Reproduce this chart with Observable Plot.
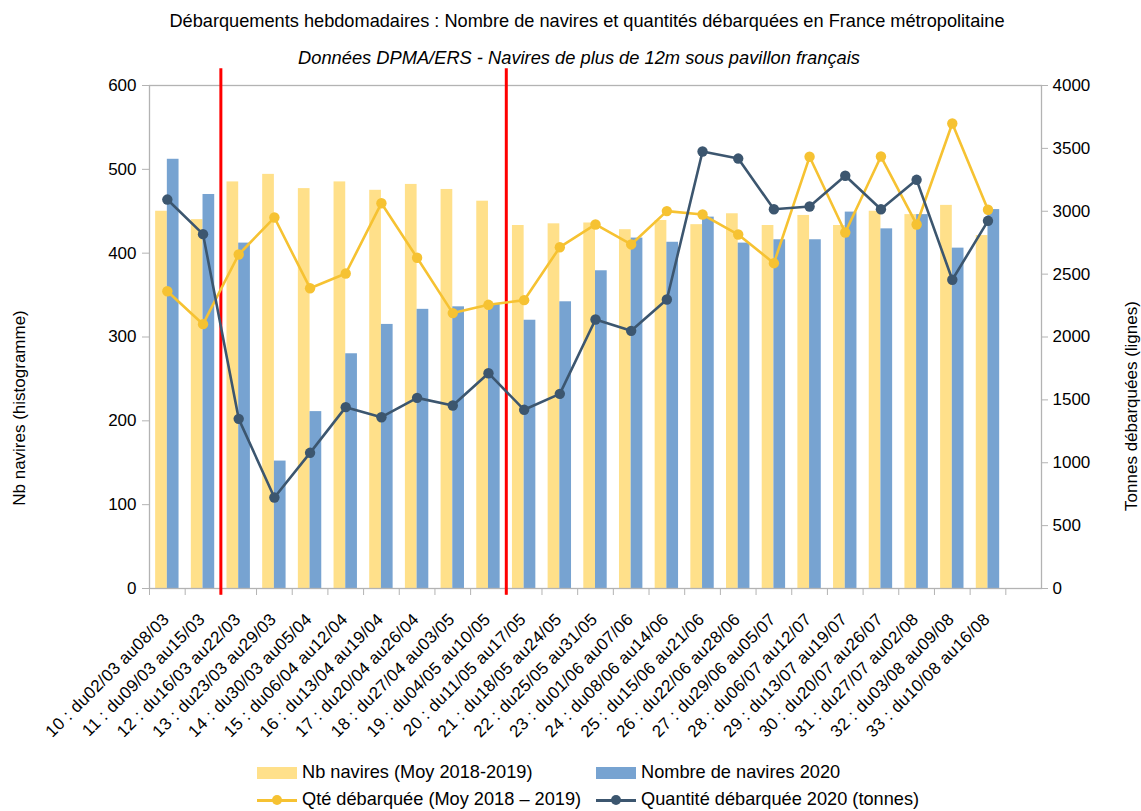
<!DOCTYPE html>
<html>
<head>
<meta charset="utf-8">
<script src="https://cdn.jsdelivr.net/npm/d3@7"></script>
<script src="https://cdn.jsdelivr.net/npm/@observablehq/plot@0.6"></script>
<style>
  body { margin: 0; background: #fff; font-family: "Liberation Sans", Arial, sans-serif; }
  #wrap { position: relative; width: 1141px; height: 811px; overflow: hidden; }
  #chart { position: absolute; left: 0; top: 0; }
  .t { position: absolute; white-space: nowrap; color: #000; }
  #title { left: 587px; top: 11px; transform: translateX(-50%); font-size: 18.2px; }
  #subtitle { left: 579px; top: 47px; transform: translateX(-50%); font-size: 18.3px; font-style: italic; }
  .ytitle { font-size: 17px; transform: translate(-50%, -50%) rotate(-90deg); }
  #yl { left: 20px; top: 408px; }
  #yr { left: 1132px; top: 406px; }
  .leg { position: absolute; font-size: 18.2px; display: flex; align-items: center; white-space: nowrap; }
  .sw { width: 40px; height: 12px; margin-right: 5px; }
  .lsw { position: relative; width: 40px; height: 12px; margin-right: 5px; }
  .lsw .ln { position: absolute; left: 0; right: 0; top: 5px; height: 3px; }
  .lsw .dt { position: absolute; left: 15px; top: 1px; width: 10px; height: 10px; border-radius: 50%; }
  #chart svg g[aria-label="x-axis tick label"] text { letter-spacing: 0.3px; }
</style>
</head>
<body>
<div id="wrap">
  <div id="chart"></div>
  <div class="t" id="title">Débarquements hebdomadaires : Nombre de navires et quantités débarquées en France métropolitaine</div>
  <div class="t" id="subtitle">Données DPMA/ERS - Navires de plus de 12m sous pavillon français</div>
  <div class="t ytitle" id="yl">Nb navires (histogramme)</div>
  <div class="t ytitle" id="yr">Tonnes débarquées (lignes)</div>
  <div id="legend"></div>
</div>
<script>
// ---- Data ----
const weeks = [
  "10 : du02/03 au08/03", "11 : du09/03 au15/03", "12 : du16/03 au22/03", "13 : du23/03 au29/03",
  "14 : du30/03 au05/04", "15 : du06/04 au12/04", "16 : du13/04 au19/04", "17 : du20/04 au26/04",
  "18 : du27/04 au03/05", "19 : du04/05 au10/05", "20 : du11/05 au17/05", "21 : du18/05 au24/05",
  "22 : du25/05 au31/05", "23 : du01/06 au07/06", "24 : du08/06 au14/06", "25 : du15/06 au21/06",
  "26 : du22/06 au28/06", "27 : du29/06 au05/07", "28 : du06/07 au12/07", "29 : du13/07 au19/07",
  "30 : du20/07 au26/07", "31 : du27/07 au02/08", "32 : du03/08 au09/08", "33 : du10/08 au16/08"
];
const navMoy = [450, 440, 485, 494, 477, 485, 475, 482, 476, 462, 433, 435, 436, 428, 439, 434, 447, 433, 445, 433, 450, 446, 457, 421];
const nav2020 = [512, 470, 412, 152, 211, 280, 315, 333, 336, 339, 320, 342, 379, 418, 413, 443, 412, 416, 416, 449, 429, 446, 406, 452];
const qteMoy = [2364, 2102, 2656, 2950, 2388, 2505, 3064, 2630, 2190, 2256, 2293, 2714, 2895, 2736, 3001, 2974, 2815, 2587, 3433, 2831, 3435, 2895, 3698, 3012];
const qte2020 = [3093, 2818, 1349, 724, 1079, 1442, 1362, 1516, 1455, 1712, 1421, 1548, 2139, 2049, 2298, 3475, 3419, 3016, 3038, 3282, 3016, 3250, 2455, 2924];
const leftTicks = [0, 100, 200, 300, 400, 500, 600];
const rightTicks = [0, 500, 1000, 1500, 2000, 2500, 3000, 3500, 4000];
const eventWeeks = ["12 : du16/03 au22/03", "20 : du11/05 au17/05"];
const seriesNames = ["Nb navires (Moy 2018-2019)", "Nombre de navires 2020", "Qté débarquée (Moy 2018 – 2019)", "Quantité débarquée 2020 (tonnes)"];

// ---- Styles ----
const C = { yellowBar: "#FFE08A", blueBar: "#77A3D1", gold: "#F6C232", dark: "#3C566F", red: "#FF0000", axis: "#B3B3B3" };
const W = 1141, H = 760, mL = 149, mR = 100, mT = 85, mB = H - 588;
const domainX = [...weeks, ""]; // extra empty slot at the right end
const bw = (W - mL - mR) / domainX.length;
const barW = 11.7;
const k = 600 / 4000; // right axis -> left axis units

const rows = weeks.map((w, i) => ({ w, navMoy: navMoy[i], nav2020: nav2020[i], qteMoy: qteMoy[i] * k, qte2020: qte2020[i] * k }));
const boundaries = domainX.slice(1);

const chart = Plot.plot({
  width: W, height: H,
  marginLeft: mL, marginRight: mR, marginTop: mT, marginBottom: mB,
  style: { fontFamily: "Liberation Sans, Arial, sans-serif", fontSize: "17px", color: "#000", background: "transparent" },
  x: { type: "band", domain: domainX, padding: 0, align: 0.5, round: false, axis: null },
  y: { type: "linear", domain: [0, 600], nice: false, axis: null },
  marks: [
    Plot.barY(rows, { x: "w", y: "navMoy", fill: C.yellowBar, insetLeft: bw / 2 - barW, insetRight: bw / 2 }),
    Plot.barY(rows, { x: "w", y: "nav2020", fill: C.blueBar, insetLeft: bw / 2, insetRight: bw / 2 - barW }),
    Plot.frame({ stroke: C.axis, strokeWidth: 1.3 }),
    // left axis
    Plot.axisY({ anchor: "left", ticks: leftTicks, tickSize: 7, tickPadding: 6, stroke: C.axis, strokeOpacity: 1, label: null }),
    // right axis
    Plot.axisY({ anchor: "right", ticks: rightTicks.map(v => v * k), tickFormat: d => String(Math.round(d / k)), tickSize: 6, tickPadding: 5, stroke: C.axis, strokeOpacity: 1, label: null }),
    // x tick marks at category boundaries
    Plot.axisX({ ticks: [weeks[0], ...boundaries], tickSize: 7, dx: -bw / 2, tickFormat: () => "", stroke: C.axis, strokeOpacity: 1, label: null }),
    Plot.axisX({ ticks: weeks, tickSize: 0, tickRotate: -45, tickPadding: 22, label: null, fontSize: 17, dx: -1, dy: 6 }),
    // event rules
    Plot.ruleX(eventWeeks, { x: d => d, y1: -8, y2: 620, dx: -bw / 2, stroke: C.red, strokeWidth: 3 }),
    // lines
    Plot.line(rows, { x: "w", y: "qteMoy", stroke: C.gold, strokeWidth: 2.6 }),
    Plot.dot(rows, { x: "w", y: "qteMoy", fill: C.gold, r: 5.2 }),
    Plot.line(rows, { x: "w", y: "qte2020", stroke: C.dark, strokeWidth: 2.6 }),
    Plot.dot(rows, { x: "w", y: "qte2020", fill: C.dark, r: 5.2 })
  ]
});
document.getElementById("chart").appendChild(chart);

// ---- Legend ----
const legend = document.getElementById("legend");
const legItems = [
  { name: seriesNames[0], kind: "bar", color: C.yellowBar, left: 257, top: 762 },
  { name: seriesNames[1], kind: "bar", color: C.blueBar, left: 596, top: 762 },
  { name: seriesNames[2], kind: "line", color: C.gold, left: 257, top: 789 },
  { name: seriesNames[3], kind: "line", color: C.dark, left: 596, top: 789 }
];
for (const it of legItems) {
  const d = document.createElement("div");
  d.className = "leg";
  d.style.left = it.left + "px";
  d.style.top = it.top + "px";
  if (it.kind === "bar") {
    d.innerHTML = `<div class="sw" style="background:${it.color}"></div><span>${it.name}</span>`;
  } else {
    d.innerHTML = `<div class="lsw"><div class="ln" style="background:${it.color}"></div><div class="dt" style="background:${it.color}"></div></div><span>${it.name}</span>`;
  }
  legend.appendChild(d);
}
</script>
</body>
</html>
